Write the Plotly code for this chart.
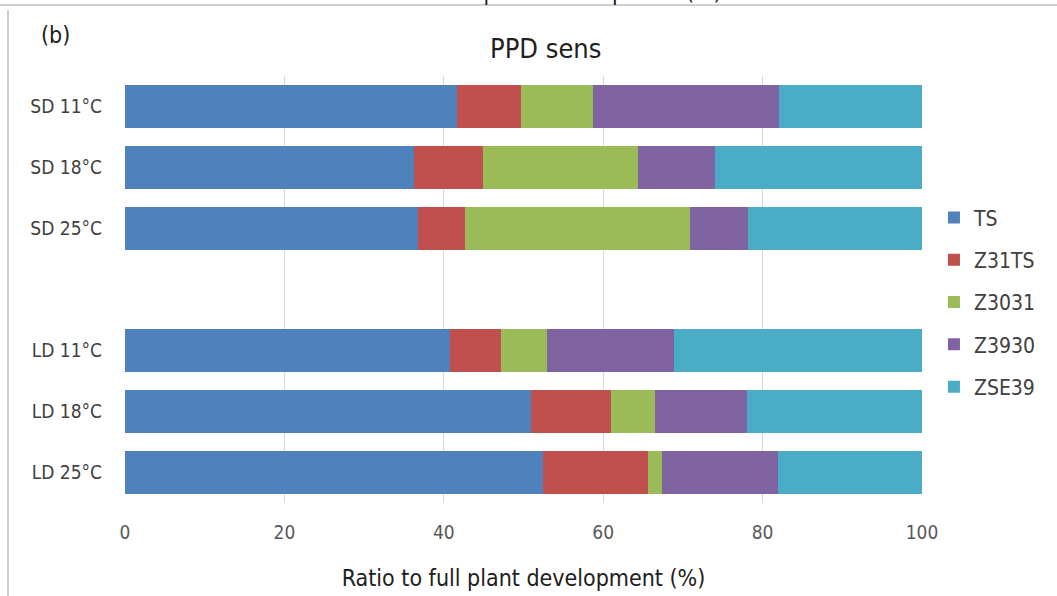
import plotly.graph_objects as go

categories = ["SD 11°C", "SD 18°C", "SD 25°C", " ", "LD 11°C", "LD 18°C", "LD 25°C"]
series_names = ["TS", "Z31TS", "Z3031", "Z3930", "ZSE39"]
ts    = [41.7, 36.2, 36.7, None, 40.8, 50.9, 52.5]
z31ts = [8.0, 8.7, 6.0, None, 6.4, 10.1, 13.1]
z3031 = [9.0, 19.5, 28.2, None, 5.8, 5.5, 1.8]
z3930 = [23.4, 9.6, 7.3, None, 15.9, 11.6, 14.5]
zse39 = [17.9, 26.0, 21.8, None, 31.1, 21.9, 18.1]
x_ticks = [0, 20, 40, 60, 80, 100]

colors = ["#4F81BD", "#C0504D", "#9BBB59", "#8064A2", "#4BACC6"]
FONT = "DejaVu Sans Condensed, Liberation Sans Narrow, sans-serif"
TXT = "#404040"

fig = go.Figure()
for i, (name, vals) in enumerate(zip(series_names, [ts, z31ts, z3031, z3930, zse39])):
    fig.add_trace(go.Bar(
        y=categories, x=vals, name=name, orientation="h",
        marker=dict(color=colors[i], line=dict(width=0)),
        legendgroup=name,
    ))

fig.update_layout(
    width=1057, height=596,
    barmode="stack", bargap=0.3,
    paper_bgcolor="white", plot_bgcolor="white",
    margin=dict(l=125, r=135, t=76, b=93, autoexpand=False),
    font=dict(family=FONT, color=TXT),
    title=dict(text="PPD sens", x=558 / 1057, xref="paper", xanchor="center",
               y=1 - 49 / 596, yanchor="middle", yref="container",
               font=dict(size=27, family=FONT, color="#202020")),
    legend=dict(x=1.015, xanchor="left", y=0.47, yanchor="middle",
                font=dict(size=21, family=FONT, color=TXT),
                traceorder="grouped", tracegroupgap=12,
                itemwidth=30, bgcolor="rgba(0,0,0,0)"),
    xaxis=dict(range=[0, 100], tickvals=x_ticks, showgrid=True,
               gridcolor="#D9D9D9", gridwidth=1, zeroline=False,
               showline=False, ticks="", ticklabelstandoff=16,
               automargin=False,
               tickfont=dict(size=19, family=FONT, color="#595959"),
               title=dict(text="Ratio to full plant development (%)",
                          font=dict(size=23, family=FONT, color="#202020"),
                          standoff=27)),
    yaxis=dict(categoryorder="array", categoryarray=categories,
               autorange="reversed", showgrid=False, showline=False,
               ticks="", ticklabelstandoff=22, automargin=False,
               tickfont=dict(size=19, family=FONT, color="#404040")),
    shapes=[
        dict(type="line", xref="paper", yref="paper",
             x0=-125 / 797, x1=(1057 - 125) / 797,
             y0=1 + 71 / 427, y1=1 + 71 / 427,
             line=dict(color="#D0D0D0", width=2)),
        dict(type="line", xref="paper", yref="paper",
             x0=-117 / 797, x1=-117 / 797,
             y0=-93 / 427, y1=1 + 66 / 427,
             line=dict(color="#D0D0D0", width=2)),
    ],
    annotations=[
        dict(text="(b)", xref="paper", yref="paper",
             x=-86 / 797, y=1 + 41 / 427, xanchor="left", yanchor="middle",
             showarrow=False, font=dict(size=23, family=FONT, color="#202020")),
        dict(text="Ratio to full plant development (%)", xref="paper", yref="paper",
             x=(540 - 125) / 797, y=1 + 69 / 427, xanchor="center", yanchor="bottom",
             showarrow=False, font=dict(size=23, family=FONT, color="#202020")),
    ],
)

fig.write_html("out.html", config={"displayModeBar": False},
               post_script="document.body.style.margin='0';")
